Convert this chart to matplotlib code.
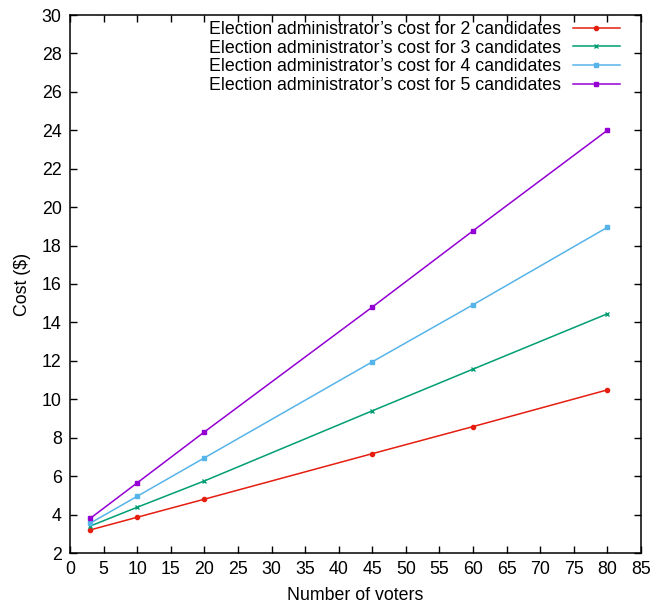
import numpy as np
import matplotlib.pyplot as plt

# data
voters = [3, 10, 20, 45, 60, 80]
cost_2 = [3.2, 3.86, 4.8, 7.17, 8.58, 10.49]
cost_3 = [3.4, 4.38, 5.75, 9.4, 11.57, 14.45]
cost_4 = [3.55, 4.95, 6.95, 11.95, 14.92, 18.95]
cost_5 = [3.8, 5.65, 8.3, 14.8, 18.77, 24.0]

labels = ["Election administrator\u2019s cost for %d candidates" % n for n in (2, 3, 4, 5)]
series = [cost_2, cost_3, cost_4, cost_5]
colors = ["#e51e10", "#009e73", "#56b4e9", "#9400d3"]
markers = ["o", "x", "s", "s"]
msizes = [3, 3.5, 3.2, 3.5]

plt.rcParams['font.family'] = ['Liberation Sans', 'DejaVu Sans']
plt.rcParams['font.size'] = 12.8

fig = plt.figure(figsize=(6.56, 6.07), dpi=100)
ax = fig.add_axes([70 / 656, 1 - 553 / 607, 571 / 656, 538 / 607])

for ys, lab, c, m, ms in zip(series, labels, colors, markers, msizes):
    ax.plot(voters, ys, color=c, marker=m, markersize=ms, linewidth=1.1,
            markeredgewidth=1.0, label=lab)

ax.set_xlim(0, 85)
ax.set_ylim(2, 30)
ax.set_xticks(np.arange(0, 86, 5))
ax.set_yticks(np.arange(2, 31, 2))
ax.tick_params(direction='in', length=5, width=1, top=True, right=True, pad=6)
for sp in ax.spines.values():
    sp.set_linewidth(1.1)

ax.set_xlabel("Number of voters", labelpad=6)
ax.set_ylabel("Cost ($)", labelpad=8)

ax.legend(loc='upper right', frameon=False, markerfirst=False, handlelength=2.65,
          handletextpad=0.67, labelspacing=0.1, borderaxespad=0, borderpad=0,
          bbox_to_anchor=(0.963, 0.989))

fig.savefig("out.png", dpi=100)
